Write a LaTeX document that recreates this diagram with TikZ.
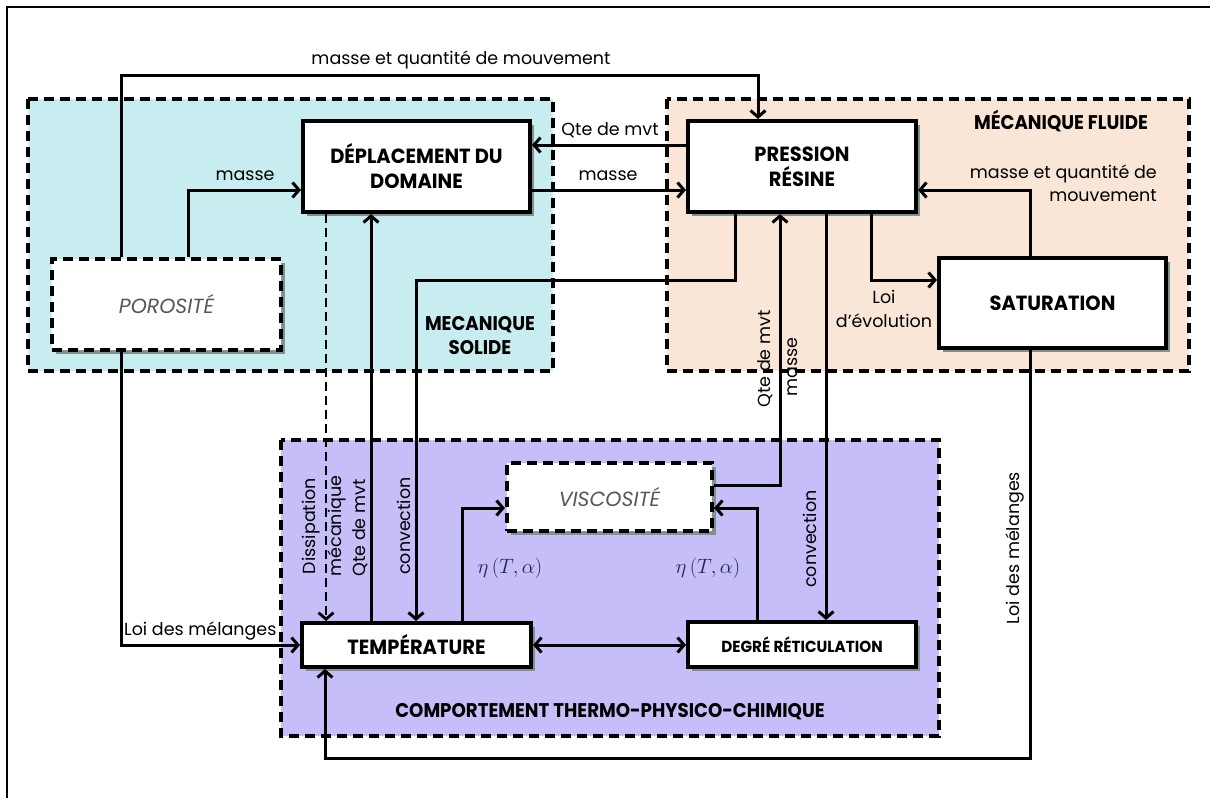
\documentclass[tikz,border=0pt]{standalone}
\usepackage{fontspec}
\setmainfont{Poppins}
\newfontfamily\tfont[FakeStretch=0.95]{Poppins}
\newfontfamily\rfont[FakeStretch=0.92]{Poppins}
\usetikzlibrary{arrows.meta,shadows}
\definecolor{cyanbg}{RGB}{200,237,241}
\definecolor{peachbg}{RGB}{250,230,215}
\definecolor{purplebg}{RGB}{198,190,248}
\definecolor{shadowc}{RGB}{128,146,144}
\definecolor{grayt}{RGB}{85,85,95}
\definecolor{etac}{RGB}{35,35,80}
\begin{document}
\begin{tikzpicture}[x=1pt,y=-1pt,
  box/.style={draw, line width=4pt, fill=white, align=center, inner sep=2pt,
    drop shadow={shadow xshift=4pt, shadow yshift=-4pt, opacity=1, fill=shadowc},
    font=\tfont\bfseries\fontsize{20.5}{25}\selectfont},
  dbox/.style={box, dash pattern=on 10pt off 6pt,
    font=\itshape\fontsize{20.5}{24}\selectfont, text=grayt},
  region/.style={line width=3.4pt, dash pattern=on 10pt off 6pt},
  conn/.style={line width=3pt},
  arr/.style={conn, -{Straight Barb[length=6.5pt,width=15pt]}},
  darr/.style={conn, {Straight Barb[length=6.5pt,width=15pt]}-{Straight Barb[length=6.5pt,width=15pt]}},
  lab/.style={font=\fontsize{17.5}{20}\selectfont, inner sep=1pt},
  rlab/.style={lab, rotate=90},
  reglab/.style={font=\rfont\bfseries\fontsize{19.8}{24}\selectfont, align=center, inner sep=1pt},
  eta/.style={text=etac, font=\fontsize{20}{23}\selectfont, inner sep=1pt}
]
\useasboundingbox (0,0) rectangle (1210,798);
% frame
\draw[line width=1.8pt] (7,798) -- (7,7) -- (1210,7);
% regions
\filldraw[region, fill=cyanbg] (28,99) rectangle (553,371);
\filldraw[region, fill=peachbg] (667,99) rectangle (1189,371);
\filldraw[region, fill=purplebg] (281,440) rectangle (939,736);
\node[reglab] (rsol) at (480,336) {MECANIQUE\\SOLIDE};
\node[reglab] (rflu) at (1061,121) {MÉCANIQUE FLUIDE};
\node[reglab] (rthe) at (610,712) {COMPORTEMENT THERMO-PHYSICO-CHIMIQUE};
% boxes
\node[box, minimum width=227pt, minimum height=91pt] (dep) at (416.5,166.5) {DÉPLACEMENT DU\\DOMAINE};
\node[box, minimum width=228pt, minimum height=91pt] (pres) at (802,166.5) {PRESSION\\RÉSINE};
\node[dbox, minimum width=229pt, minimum height=91pt] (poro) at (166.5,304) {POROSITÉ};
\node[box, minimum width=227pt, minimum height=90pt] (sat) at (1052.5,303) {SATURATION};
\node[dbox, minimum width=205pt, minimum height=68pt] (visc) at (609.5,497) {VISCOSITÉ};
\node[box, minimum width=229pt, minimum height=44pt] (temp) at (416.5,645) {TEMPÉRATURE};
\node[box, minimum width=228pt, minimum height=45pt, font=\tfont\bfseries\fontsize{16}{19}\selectfont] (deg) at (802,644.5) {DEGRÉ RÉTICULATION};
% coordinates
\coordinate (a1) at (121,75); \coordinate (a2) at (758,75);
\coordinate (b1) at (188,190);
\coordinate (c1) at (0,145);
\coordinate (d1) at (0,190);
\coordinate (e1) at (326,0);
\coordinate (f1) at (371,0);
\coordinate (g1) at (735,280); \coordinate (g2) at (416,280);
\coordinate (h1) at (462,508);
\coordinate (i1) at (780,485);
\coordinate (j1) at (826,0);
\coordinate (k1) at (871,280);
\coordinate (m1) at (1030,190);
\coordinate (n1) at (1030,758); \coordinate (n2) at (325,758);
\coordinate (o1) at (121,645);
\coordinate (p1) at (757,508);
% connectors
\draw[arr] (poro.north -| a1) -- (a1) -- (a2) -- (pres.north -| a2);
\draw[arr] (poro.north -| b1) -- (b1) -- (dep.west |- b1);
\draw[arr] (pres.west |- c1) -- (dep.east |- c1);
\draw[arr] (dep.east |- d1) -- (pres.west |- d1);
\draw[arr, line width=2.8pt, dash pattern=on 9pt off 5pt] (dep.south -| e1) -- (temp.north -| e1);
\draw[arr] (temp.north -| f1) -- (dep.south -| f1);
\draw[arr] (pres.south -| g1) -- (g1) -- (g2) -- (temp.north -| g2);
\draw[arr] (temp.north -| h1) -- (h1) -- (visc.west |- h1);
\draw[arr] (visc.east |- i1) -- (i1) -- (pres.south -| i1);
\draw[arr] (pres.south -| j1) -- (deg.north -| j1);
\draw[arr] (pres.south -| k1) -- (k1) -- (sat.west |- k1);
\draw[arr] (sat.north -| m1) -- (m1) -- (pres.east |- m1);
\draw[arr] (sat.south -| n1) -- (n1) -- (n2) -- (temp.south -| n2);
\draw[arr] (poro.south -| o1) -- (o1) -- (temp.west |- o1);
\draw[darr] (temp.east) -- (deg.west |- temp.east);
\draw[arr] (deg.north -| p1) -- (p1) -- (visc.east |- p1);
% labels
\node[lab] (l1) at (461,60) {masse et quantité de mouvement};
\node[lab] (l2) at (245,176) {masse};
\node[lab] (l3) at (610,130) {Qte de mvt};
\node[lab] (l4) at (608,176) {masse};
\node[lab, align=right, anchor=east, font=\fontsize{17.5}{23}\selectfont] (l5) at (1158,183) {masse et quantité de\\mouvement};
\node[lab, align=center, font=\fontsize{17.5}{24}\selectfont] (l6) at (884,309) {Loi\\d’évolution};
\node[lab, anchor=south west] (l7) at (123,641) {Loi des mélanges};
\node[rlab, align=center, font=\fontsize{17.5}{26}\selectfont] (l8) at (324,526) {Dissipation\\mécanique};
\node[rlab] (l9) at (360,528) {Qte de mvt};
\node[rlab] (l10) at (404,526) {convection};
\node[rlab] (l11) at (765,359) {Qte de mvt};
\node[rlab] (l12) at (793,367) {masse};
\node[rlab] (l13) at (810,539) {convection};
\node[rlab] (l14) at (1015,548) {Loi des mélanges};
\node[eta] (e1l) at (510,568) {$\eta\left(T,\alpha\right)$};
\node[eta] (e2l) at (708,568) {$\eta\left(T,\alpha\right)$};
\end{tikzpicture}
\end{document}
